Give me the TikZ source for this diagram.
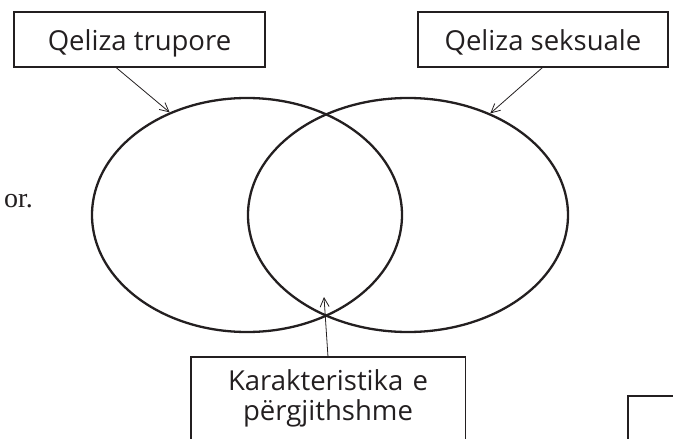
\documentclass[tikz,border=0pt]{standalone}
\usepackage{fontspec}
\setmainfont{Liberation Serif}
\newfontfamily\boxfont{Open Sans}
\usetikzlibrary{shapes.geometric,arrows.meta}
\definecolor{ink}{HTML}{231F20}
\tikzset{
  labelbox/.style={draw=ink, line width=1.4pt, text=ink, inner sep=0pt,
    text height=26pt, text depth=5pt,
    font=\boxfont\fontsize{27.5}{30}\selectfont},
  labeltext/.style={text=ink, inner xsep=0pt, inner ysep=12pt, text width=274pt, align=center,
    font=\boxfont\fontsize{27.5}{30}\selectfont},
  boxline/.style={draw=ink, line width=1.4pt},
  venn/.style={ellipse, draw=ink, line width=2.3pt, inner sep=0pt},
  pointer/.style={draw=ink, line width=0.8pt, -{Straight Barb[length=9pt,width=9pt,line width=0.8pt]}},
  pagetext/.style={text=ink, inner sep=0pt, font=\fontsize{28}{30}\selectfont}
}
\begin{document}
\begin{tikzpicture}[x=1pt,y=-1pt]
\clip (0,0) rectangle (673,439);
\useasboundingbox (0,0) rectangle (673,439);
% page text fragment
\node[pagetext, anchor=base east] (frag) at (33,207) {or.};
% ellipses
\node[venn, minimum width=310pt, minimum height=234pt] (L) at (247,215) {};
\node[venn, minimum width=320pt, minimum height=234pt] (R) at (408,215) {};
% top boxes
\node[labelbox, minimum width=251pt, minimum height=55pt] (b1) at (139.5,39.5) {Qeliza trupore};
\node[labelbox, minimum width=250pt, minimum height=55pt] (b2) at (543,39.5) {Qeliza seksuale};
% bottom box
\node[labeltext, anchor=north] (b3) at (328,357) {Karakteristika e\\përgjithshme};
\draw[boxline] ([yshift=-60pt]b3.south west) -- (b3.north west) -- (b3.north east) -- ([yshift=-60pt]b3.south east);
% small box at bottom right
\draw[boxline] (628,470) -- (628,396) -- (700,396);
% pointers
\coordinate (t3) at (324,297);
\draw[pointer] ([xshift=103pt]b1.south west) -- (L.127.5);
\draw[pointer] ([xshift=125pt]b2.south west) -- (R.51.8);
\draw[pointer] (b3.north) -- (t3);
\end{tikzpicture}
\end{document}
